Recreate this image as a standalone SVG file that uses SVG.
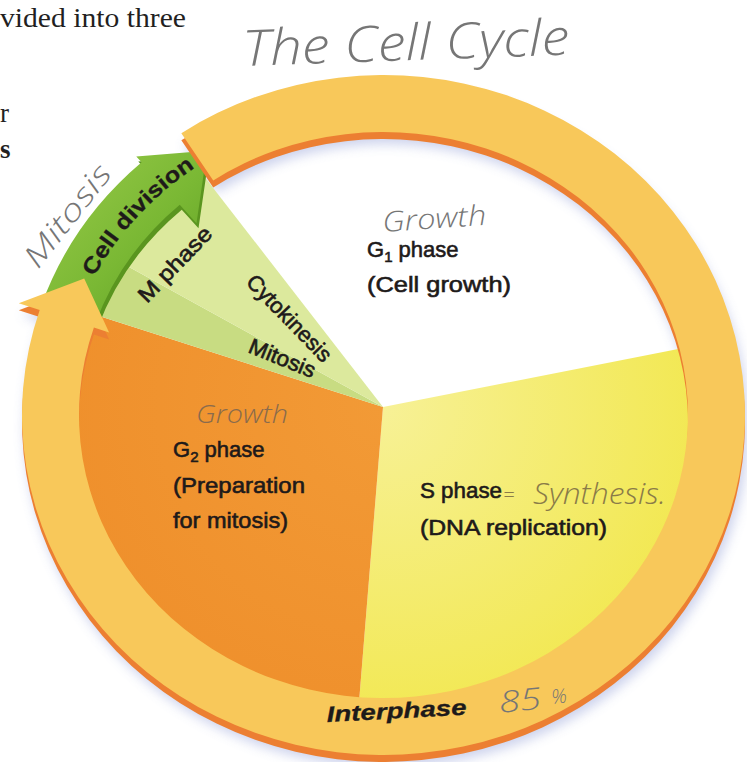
<svg xmlns="http://www.w3.org/2000/svg" xmlns:xlink="http://www.w3.org/1999/xlink" width="747" height="762" viewBox="0 0 747 762">
<style>
.lbl{font-family:"Liberation Sans","DejaVu Sans",sans-serif;font-size:22px;fill:#1e1a1a;stroke:#1e1a1a;stroke-width:0.6px;}
.bold{font-weight:bold;stroke-width:0.3px;}
.hand{font-family:"Open Sans","DejaVu Sans",sans-serif;font-weight:300;font-style:italic;fill:#767676;}
.print{font-family:"Liberation Serif",serif;font-size:27px;fill:#231f1f;}
</style>
<defs>
<clipPath id="pieClip"><ellipse cx="383.5" cy="415" rx="312" ry="290"/></clipPath>
<filter id="blur" x="-10%" y="-10%" width="120%" height="130%"><feGaussianBlur stdDeviation="6"/></filter>
<path id="ringShape" d="M 181.35 133.13 A 361.5 340 0 1 1 39.69 309.93 L 18.77 303.13 L 84.2 278.45 L 109.12 332.49 L 93.9 327.55 A 304.5 283 0 1 0 213.23 180.38 Z"/>
<path id="greenShape" d="M 41.69 304.31 A 361.5 340 0 0 1 141.61 162.33 L 136.26 156.39 L 207.04 150.83 L 196.5 223.3 L 179.75 204.69 A 304.5 283 0 0 0 95.59 322.86 Z"/>
<path id="cdPath" d="M 91.4 282 A 325 303.5 0 0 1 230.9 147"/>
<linearGradient id="greenGrad" x1="0" y1="0" x2="1" y2="1">
<stop offset="0" stop-color="#9acb4a"/>
<stop offset="0.55" stop-color="#7ab834"/>
<stop offset="1" stop-color="#5e9d24"/>
</linearGradient>
<radialGradient id="sGrad" cx="383" cy="407" r="320" gradientUnits="userSpaceOnUse">
<stop offset="0" stop-color="#f7f196"/>
<stop offset="1" stop-color="#f2e852"/>
</radialGradient>
<radialGradient id="g2Grad" cx="383" cy="407" r="320" gradientUnits="userSpaceOnUse">
<stop offset="0" stop-color="#f29a36"/>
<stop offset="1" stop-color="#ef902c"/>
</radialGradient>
</defs>
<rect x="0" y="0" width="747" height="762" fill="#ffffff"/>

<g id="page-text">
<text class="print" x="0" y="27" textLength="186" lengthAdjust="spacingAndGlyphs">vided into three</text>
<text class="print" x="0" y="122">r</text>
<text class="print" x="0" y="158" font-weight="bold">s</text>
</g>

<g id="ring-shadow" filter="url(#blur)" opacity="0.45">
<use xlink:href="#ringShape" transform="translate(3,12)" fill="#8e9bd6"/>
</g>

<g id="s-phase">
<polygon clip-path="url(#pieClip)" points="383,407 943,297 943,973 337,973" fill="url(#sGrad)"/>
<text class="lbl" x="420" y="498" textLength="82" lengthAdjust="spacingAndGlyphs">S phase</text>
<text class="lbl" x="420" y="535" textLength="187" lengthAdjust="spacingAndGlyphs">(DNA replication)</text>
</g>

<g id="g2-phase">
<polygon clip-path="url(#pieClip)" points="383,407 337,973 -300,973 -173,229" fill="url(#g2Grad)"/>
<text class="lbl" x="173" y="457">G<tspan font-size="15" dy="5">2</tspan><tspan dy="-5"> phase</tspan></text>
<text class="lbl" x="173" y="493" textLength="132" lengthAdjust="spacingAndGlyphs">(Preparation</text>
<text class="lbl" x="173" y="528" textLength="115" lengthAdjust="spacingAndGlyphs">for mitosis)</text>
</g>

<g id="m-phase">
<polygon clip-path="url(#pieClip)" points="383,407 -173,229 -143,117" fill="#c8dc82"/>
<polygon clip-path="url(#pieClip)" points="383,407 -143,117 31,-47" fill="#dce99d"/>
<text class="lbl" transform="translate(147,304) rotate(-46)" textLength="96" lengthAdjust="spacingAndGlyphs">M phase</text>
<text class="lbl" transform="translate(245,283) rotate(46)" textLength="112" lengthAdjust="spacingAndGlyphs">Cytokinesis</text>
<text class="lbl" transform="translate(247,352) rotate(22)" textLength="70" lengthAdjust="spacingAndGlyphs">Mitosis</text>
</g>

<g id="g1-phase">
<text class="lbl" x="367" y="257">G<tspan font-size="15" dy="5">1</tspan><tspan dy="-5"> phase</tspan></text>
<text class="lbl" x="367" y="292" textLength="144" lengthAdjust="spacingAndGlyphs">(Cell growth)</text>
</g>

<g id="connectors">
<g id="cell-division-arrow">
<use xlink:href="#greenShape" transform="translate(2,5)" fill="#5a951f"/>
<use xlink:href="#greenShape" fill="url(#greenGrad)"/>
</g>
<g id="interphase-arrow">
<use xlink:href="#ringShape" transform="translate(0,7)" fill="#ec7f32"/>
<use xlink:href="#ringShape" fill="#f8c85a"/>
</g>
</g>

<g id="cell-division-label">
<text class="lbl bold" font-size="25"><textPath xlink:href="#cdPath" startOffset="6" textLength="150" lengthAdjust="spacingAndGlyphs">Cell division</textPath></text>
</g>

<g id="interphase-label">
<text class="lbl bold" font-size="27" font-style="italic" transform="translate(327,722) rotate(-3)" textLength="140" lengthAdjust="spacingAndGlyphs">Interphase</text>
</g>

<g id="annotations">
<text class="hand" font-size="50" transform="translate(243,66) rotate(-2)" textLength="327" lengthAdjust="spacingAndGlyphs">The Cell Cycle</text>
<text class="hand" font-size="30" transform="translate(38,270) rotate(-52)" textLength="122" lengthAdjust="spacingAndGlyphs">Mitosis</text>
<text class="hand" font-size="28" fill="#7a7a8c" transform="translate(383,232) rotate(-4)" textLength="104" lengthAdjust="spacingAndGlyphs">Growth</text>
<text class="hand" font-size="26" style="fill:#8a6b4c" x="196" y="423" textLength="92" lengthAdjust="spacingAndGlyphs">Growth</text>
<text class="hand" font-size="20" style="fill:#8a7b48" x="503" y="502">=</text>
<text class="hand" font-size="30" style="fill:#8a7b48" x="533" y="504" textLength="133" lengthAdjust="spacingAndGlyphs">Synthesis.</text>
<text class="hand" font-size="30" transform="translate(500,713) rotate(-6)" textLength="42" lengthAdjust="spacingAndGlyphs">85</text>
<text class="hand" font-size="20" transform="translate(552,704) rotate(-6)">%</text>
</g>
</svg>
